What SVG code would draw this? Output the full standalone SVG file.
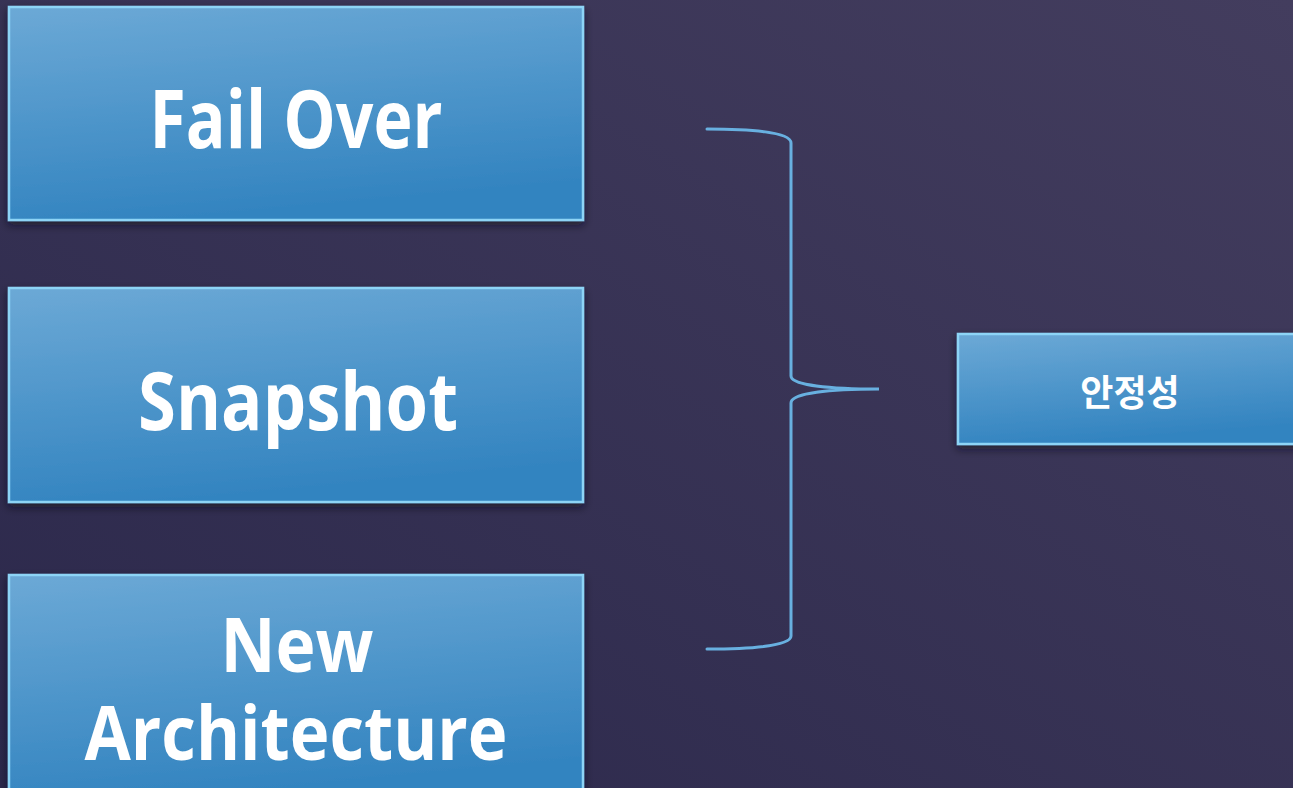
<svg xmlns="http://www.w3.org/2000/svg" width="1293" height="788" viewBox="0 0 1293 788">
  <defs>
    <linearGradient id="bg" x1="1" y1="0" x2="0" y2="1">
      <stop offset="0" stop-color="#433d5e"/>
      <stop offset="1" stop-color="#2b284b"/>
    </linearGradient>
    <linearGradient id="boxfill" x1="0" y1="0" x2="0.25" y2="1">
      <stop offset="0" stop-color="#6ca9d6"/>
      <stop offset="1" stop-color="#3384c0"/>
    </linearGradient>
    <filter id="shadow" x="-10%" y="-10%" width="120%" height="130%">
      <feDropShadow dx="0" dy="4" stdDeviation="4" flood-color="#0d0c20" flood-opacity="0.6"/>
    </filter>
  </defs>
  <style>
    .box { fill: url(#boxfill); stroke: #8dd4f6; stroke-width: 2.5; filter: url(#shadow); }
    .lbl { fill: #ffffff; font-family: "Open Sans", "Noto Sans CJK KR", sans-serif; font-weight: bold; text-anchor: middle; }
    .ko { fill: #ffffff; font-family: "Noto Sans CJK KR", sans-serif; font-weight: bold; text-anchor: middle; }
    .brace { fill: none; stroke: #68b0e0; stroke-width: 3; stroke-linecap: round; }
  </style>
  <rect x="0" y="0" width="1293" height="788" fill="url(#bg)"/>

  <g id="node-failover">
    <rect class="box" x="9" y="7" width="574" height="213"/>
    <text class="lbl" x="296" y="148" font-size="80" textLength="293" lengthAdjust="spacingAndGlyphs">Fail Over</text>
  </g>
  <g id="node-snapshot">
    <rect class="box" x="9" y="288" width="574" height="214"/>
    <text class="lbl" x="298" y="430" font-size="80" textLength="320" lengthAdjust="spacingAndGlyphs">Snapshot</text>
  </g>
  <g id="node-newarch">
    <rect class="box" x="9" y="575" width="574" height="225"/>
    <text class="lbl" x="297" y="672" font-size="76" textLength="153" lengthAdjust="spacingAndGlyphs">New</text>
    <text class="lbl" x="296" y="760" font-size="76" textLength="423" lengthAdjust="spacingAndGlyphs">Architecture</text>
  </g>
  <g id="node-stability">
    <rect class="box" x="958" y="334" width="345" height="110"/>
    <text class="ko" x="1130" y="406" font-size="36">안정성</text>
  </g>

  <g id="connectors">
    <path class="brace" d="M707,129 C750,129 791,132 791,143 L791,376 C791,385 830,389 879,389 C830,389 791,393 791,403 L791,636 C791,646 750,649 707,649"/>
  </g>
</svg>
